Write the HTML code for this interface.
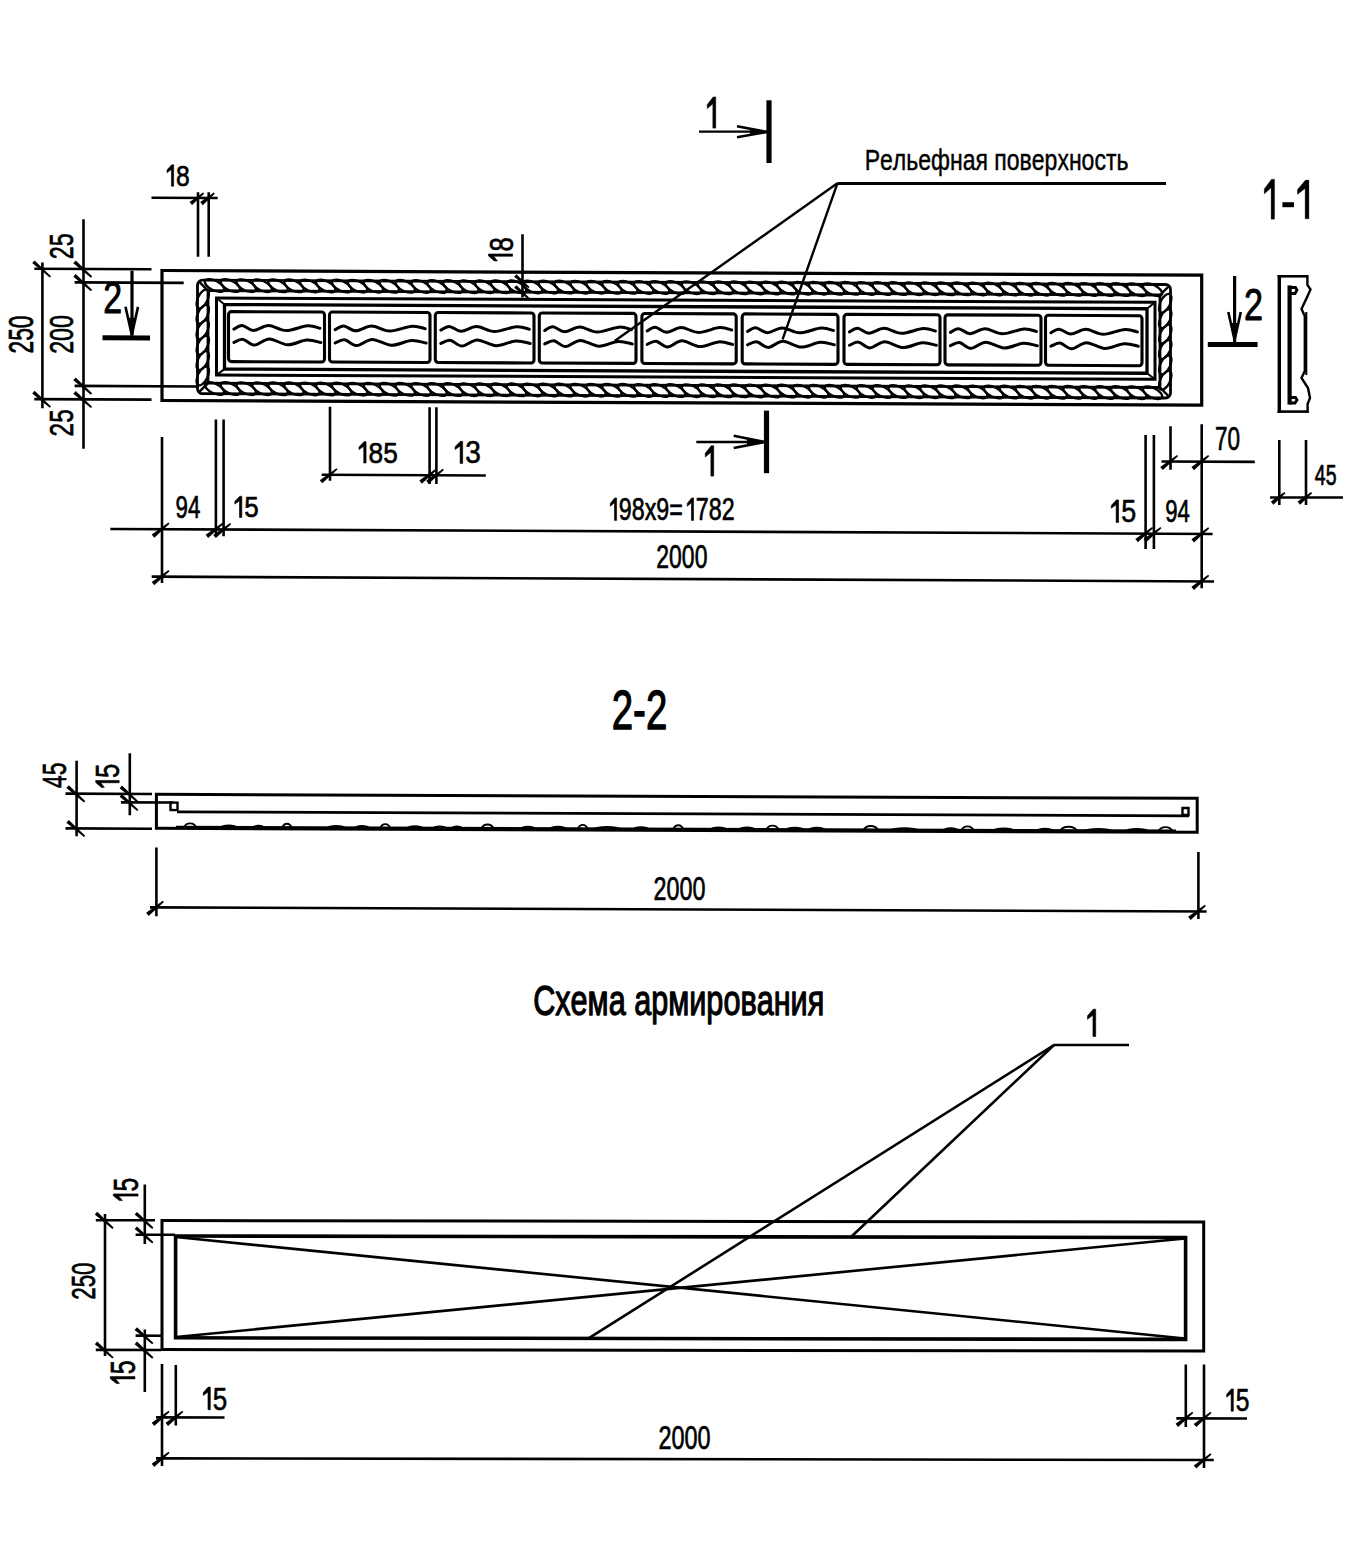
<!DOCTYPE html>
<html><head><meta charset="utf-8"><title>drawing</title>
<style>html,body{margin:0;padding:0;background:#fff;}body{width:1353px;height:1566px;overflow:hidden;font-family:"Liberation Sans",sans-serif;}svg{display:block;}</style>
</head><body><svg width="1353" height="1566" viewBox="0 0 1353 1566"><rect width="1353" height="1566" fill="#fff"/><g stroke="#000" fill="none" stroke-linecap="butt"><g transform="matrix(1,0.0045,0,1,0,-0.729)"><rect x="162" y="270.5" width="1039.7" height="130" fill="none" stroke-width="3.2"/><rect x="197.5" y="280" width="973.0" height="113.5" rx="5" fill="none" stroke-width="2.8"/><rect x="208.0" y="290.5" width="952.0" height="92.5" fill="none" stroke-width="2.8"/><ellipse cx="0" cy="0" rx="10.49" ry="4.83" transform="translate(214.45,285.25) rotate(26)" fill="none" stroke-width="2.3"/><ellipse cx="0" cy="0" rx="10.49" ry="4.83" transform="translate(230.35,285.25) rotate(26)" fill="none" stroke-width="2.3"/><ellipse cx="0" cy="0" rx="10.49" ry="4.83" transform="translate(246.25,285.25) rotate(26)" fill="none" stroke-width="2.3"/><ellipse cx="0" cy="0" rx="10.49" ry="4.83" transform="translate(262.15,285.25) rotate(26)" fill="none" stroke-width="2.3"/><ellipse cx="0" cy="0" rx="10.49" ry="4.83" transform="translate(278.05,285.25) rotate(26)" fill="none" stroke-width="2.3"/><ellipse cx="0" cy="0" rx="10.49" ry="4.83" transform="translate(293.95,285.25) rotate(26)" fill="none" stroke-width="2.3"/><ellipse cx="0" cy="0" rx="10.49" ry="4.83" transform="translate(309.85,285.25) rotate(26)" fill="none" stroke-width="2.3"/><ellipse cx="0" cy="0" rx="10.49" ry="4.83" transform="translate(325.75,285.25) rotate(26)" fill="none" stroke-width="2.3"/><ellipse cx="0" cy="0" rx="10.49" ry="4.83" transform="translate(341.65,285.25) rotate(26)" fill="none" stroke-width="2.3"/><ellipse cx="0" cy="0" rx="10.49" ry="4.83" transform="translate(357.55,285.25) rotate(26)" fill="none" stroke-width="2.3"/><ellipse cx="0" cy="0" rx="10.49" ry="4.83" transform="translate(373.45,285.25) rotate(26)" fill="none" stroke-width="2.3"/><ellipse cx="0" cy="0" rx="10.49" ry="4.83" transform="translate(389.35,285.25) rotate(26)" fill="none" stroke-width="2.3"/><ellipse cx="0" cy="0" rx="10.49" ry="4.83" transform="translate(405.25,285.25) rotate(26)" fill="none" stroke-width="2.3"/><ellipse cx="0" cy="0" rx="10.49" ry="4.83" transform="translate(421.15,285.25) rotate(26)" fill="none" stroke-width="2.3"/><ellipse cx="0" cy="0" rx="10.49" ry="4.83" transform="translate(437.05,285.25) rotate(26)" fill="none" stroke-width="2.3"/><ellipse cx="0" cy="0" rx="10.49" ry="4.83" transform="translate(452.95,285.25) rotate(26)" fill="none" stroke-width="2.3"/><ellipse cx="0" cy="0" rx="10.49" ry="4.83" transform="translate(468.85,285.25) rotate(26)" fill="none" stroke-width="2.3"/><ellipse cx="0" cy="0" rx="10.49" ry="4.83" transform="translate(484.75,285.25) rotate(26)" fill="none" stroke-width="2.3"/><ellipse cx="0" cy="0" rx="10.49" ry="4.83" transform="translate(500.65,285.25) rotate(26)" fill="none" stroke-width="2.3"/><ellipse cx="0" cy="0" rx="10.49" ry="4.83" transform="translate(516.55,285.25) rotate(26)" fill="none" stroke-width="2.3"/><ellipse cx="0" cy="0" rx="10.49" ry="4.83" transform="translate(532.45,285.25) rotate(26)" fill="none" stroke-width="2.3"/><ellipse cx="0" cy="0" rx="10.49" ry="4.83" transform="translate(548.35,285.25) rotate(26)" fill="none" stroke-width="2.3"/><ellipse cx="0" cy="0" rx="10.49" ry="4.83" transform="translate(564.25,285.25) rotate(26)" fill="none" stroke-width="2.3"/><ellipse cx="0" cy="0" rx="10.49" ry="4.83" transform="translate(580.15,285.25) rotate(26)" fill="none" stroke-width="2.3"/><ellipse cx="0" cy="0" rx="10.49" ry="4.83" transform="translate(596.05,285.25) rotate(26)" fill="none" stroke-width="2.3"/><ellipse cx="0" cy="0" rx="10.49" ry="4.83" transform="translate(611.95,285.25) rotate(26)" fill="none" stroke-width="2.3"/><ellipse cx="0" cy="0" rx="10.49" ry="4.83" transform="translate(627.85,285.25) rotate(26)" fill="none" stroke-width="2.3"/><ellipse cx="0" cy="0" rx="10.49" ry="4.83" transform="translate(643.75,285.25) rotate(26)" fill="none" stroke-width="2.3"/><ellipse cx="0" cy="0" rx="10.49" ry="4.83" transform="translate(659.65,285.25) rotate(26)" fill="none" stroke-width="2.3"/><ellipse cx="0" cy="0" rx="10.49" ry="4.83" transform="translate(675.55,285.25) rotate(26)" fill="none" stroke-width="2.3"/><ellipse cx="0" cy="0" rx="10.49" ry="4.83" transform="translate(691.45,285.25) rotate(26)" fill="none" stroke-width="2.3"/><ellipse cx="0" cy="0" rx="10.49" ry="4.83" transform="translate(707.35,285.25) rotate(26)" fill="none" stroke-width="2.3"/><ellipse cx="0" cy="0" rx="10.49" ry="4.83" transform="translate(723.25,285.25) rotate(26)" fill="none" stroke-width="2.3"/><ellipse cx="0" cy="0" rx="10.49" ry="4.83" transform="translate(739.15,285.25) rotate(26)" fill="none" stroke-width="2.3"/><ellipse cx="0" cy="0" rx="10.49" ry="4.83" transform="translate(755.05,285.25) rotate(26)" fill="none" stroke-width="2.3"/><ellipse cx="0" cy="0" rx="10.49" ry="4.83" transform="translate(770.95,285.25) rotate(26)" fill="none" stroke-width="2.3"/><ellipse cx="0" cy="0" rx="10.49" ry="4.83" transform="translate(786.85,285.25) rotate(26)" fill="none" stroke-width="2.3"/><ellipse cx="0" cy="0" rx="10.49" ry="4.83" transform="translate(802.75,285.25) rotate(26)" fill="none" stroke-width="2.3"/><ellipse cx="0" cy="0" rx="10.49" ry="4.83" transform="translate(818.65,285.25) rotate(26)" fill="none" stroke-width="2.3"/><ellipse cx="0" cy="0" rx="10.49" ry="4.83" transform="translate(834.55,285.25) rotate(26)" fill="none" stroke-width="2.3"/><ellipse cx="0" cy="0" rx="10.49" ry="4.83" transform="translate(850.45,285.25) rotate(26)" fill="none" stroke-width="2.3"/><ellipse cx="0" cy="0" rx="10.49" ry="4.83" transform="translate(866.35,285.25) rotate(26)" fill="none" stroke-width="2.3"/><ellipse cx="0" cy="0" rx="10.49" ry="4.83" transform="translate(882.25,285.25) rotate(26)" fill="none" stroke-width="2.3"/><ellipse cx="0" cy="0" rx="10.49" ry="4.83" transform="translate(898.15,285.25) rotate(26)" fill="none" stroke-width="2.3"/><ellipse cx="0" cy="0" rx="10.49" ry="4.83" transform="translate(914.05,285.25) rotate(26)" fill="none" stroke-width="2.3"/><ellipse cx="0" cy="0" rx="10.49" ry="4.83" transform="translate(929.95,285.25) rotate(26)" fill="none" stroke-width="2.3"/><ellipse cx="0" cy="0" rx="10.49" ry="4.83" transform="translate(945.85,285.25) rotate(26)" fill="none" stroke-width="2.3"/><ellipse cx="0" cy="0" rx="10.49" ry="4.83" transform="translate(961.75,285.25) rotate(26)" fill="none" stroke-width="2.3"/><ellipse cx="0" cy="0" rx="10.49" ry="4.83" transform="translate(977.65,285.25) rotate(26)" fill="none" stroke-width="2.3"/><ellipse cx="0" cy="0" rx="10.49" ry="4.83" transform="translate(993.55,285.25) rotate(26)" fill="none" stroke-width="2.3"/><ellipse cx="0" cy="0" rx="10.49" ry="4.83" transform="translate(1009.45,285.25) rotate(26)" fill="none" stroke-width="2.3"/><ellipse cx="0" cy="0" rx="10.49" ry="4.83" transform="translate(1025.35,285.25) rotate(26)" fill="none" stroke-width="2.3"/><ellipse cx="0" cy="0" rx="10.49" ry="4.83" transform="translate(1041.25,285.25) rotate(26)" fill="none" stroke-width="2.3"/><ellipse cx="0" cy="0" rx="10.49" ry="4.83" transform="translate(1057.15,285.25) rotate(26)" fill="none" stroke-width="2.3"/><ellipse cx="0" cy="0" rx="10.49" ry="4.83" transform="translate(1073.05,285.25) rotate(26)" fill="none" stroke-width="2.3"/><ellipse cx="0" cy="0" rx="10.49" ry="4.83" transform="translate(1088.95,285.25) rotate(26)" fill="none" stroke-width="2.3"/><ellipse cx="0" cy="0" rx="10.49" ry="4.83" transform="translate(1104.85,285.25) rotate(26)" fill="none" stroke-width="2.3"/><ellipse cx="0" cy="0" rx="10.49" ry="4.83" transform="translate(1120.75,285.25) rotate(26)" fill="none" stroke-width="2.3"/><ellipse cx="0" cy="0" rx="10.49" ry="4.83" transform="translate(1136.65,285.25) rotate(26)" fill="none" stroke-width="2.3"/><ellipse cx="0" cy="0" rx="10.49" ry="4.83" transform="translate(1152.55,285.25) rotate(26)" fill="none" stroke-width="2.3"/><ellipse cx="0" cy="0" rx="10.49" ry="4.83" transform="translate(214.45,388.25) rotate(26)" fill="none" stroke-width="2.3"/><ellipse cx="0" cy="0" rx="10.49" ry="4.83" transform="translate(230.35,388.25) rotate(26)" fill="none" stroke-width="2.3"/><ellipse cx="0" cy="0" rx="10.49" ry="4.83" transform="translate(246.25,388.25) rotate(26)" fill="none" stroke-width="2.3"/><ellipse cx="0" cy="0" rx="10.49" ry="4.83" transform="translate(262.15,388.25) rotate(26)" fill="none" stroke-width="2.3"/><ellipse cx="0" cy="0" rx="10.49" ry="4.83" transform="translate(278.05,388.25) rotate(26)" fill="none" stroke-width="2.3"/><ellipse cx="0" cy="0" rx="10.49" ry="4.83" transform="translate(293.95,388.25) rotate(26)" fill="none" stroke-width="2.3"/><ellipse cx="0" cy="0" rx="10.49" ry="4.83" transform="translate(309.85,388.25) rotate(26)" fill="none" stroke-width="2.3"/><ellipse cx="0" cy="0" rx="10.49" ry="4.83" transform="translate(325.75,388.25) rotate(26)" fill="none" stroke-width="2.3"/><ellipse cx="0" cy="0" rx="10.49" ry="4.83" transform="translate(341.65,388.25) rotate(26)" fill="none" stroke-width="2.3"/><ellipse cx="0" cy="0" rx="10.49" ry="4.83" transform="translate(357.55,388.25) rotate(26)" fill="none" stroke-width="2.3"/><ellipse cx="0" cy="0" rx="10.49" ry="4.83" transform="translate(373.45,388.25) rotate(26)" fill="none" stroke-width="2.3"/><ellipse cx="0" cy="0" rx="10.49" ry="4.83" transform="translate(389.35,388.25) rotate(26)" fill="none" stroke-width="2.3"/><ellipse cx="0" cy="0" rx="10.49" ry="4.83" transform="translate(405.25,388.25) rotate(26)" fill="none" stroke-width="2.3"/><ellipse cx="0" cy="0" rx="10.49" ry="4.83" transform="translate(421.15,388.25) rotate(26)" fill="none" stroke-width="2.3"/><ellipse cx="0" cy="0" rx="10.49" ry="4.83" transform="translate(437.05,388.25) rotate(26)" fill="none" stroke-width="2.3"/><ellipse cx="0" cy="0" rx="10.49" ry="4.83" transform="translate(452.95,388.25) rotate(26)" fill="none" stroke-width="2.3"/><ellipse cx="0" cy="0" rx="10.49" ry="4.83" transform="translate(468.85,388.25) rotate(26)" fill="none" stroke-width="2.3"/><ellipse cx="0" cy="0" rx="10.49" ry="4.83" transform="translate(484.75,388.25) rotate(26)" fill="none" stroke-width="2.3"/><ellipse cx="0" cy="0" rx="10.49" ry="4.83" transform="translate(500.65,388.25) rotate(26)" fill="none" stroke-width="2.3"/><ellipse cx="0" cy="0" rx="10.49" ry="4.83" transform="translate(516.55,388.25) rotate(26)" fill="none" stroke-width="2.3"/><ellipse cx="0" cy="0" rx="10.49" ry="4.83" transform="translate(532.45,388.25) rotate(26)" fill="none" stroke-width="2.3"/><ellipse cx="0" cy="0" rx="10.49" ry="4.83" transform="translate(548.35,388.25) rotate(26)" fill="none" stroke-width="2.3"/><ellipse cx="0" cy="0" rx="10.49" ry="4.83" transform="translate(564.25,388.25) rotate(26)" fill="none" stroke-width="2.3"/><ellipse cx="0" cy="0" rx="10.49" ry="4.83" transform="translate(580.15,388.25) rotate(26)" fill="none" stroke-width="2.3"/><ellipse cx="0" cy="0" rx="10.49" ry="4.83" transform="translate(596.05,388.25) rotate(26)" fill="none" stroke-width="2.3"/><ellipse cx="0" cy="0" rx="10.49" ry="4.83" transform="translate(611.95,388.25) rotate(26)" fill="none" stroke-width="2.3"/><ellipse cx="0" cy="0" rx="10.49" ry="4.83" transform="translate(627.85,388.25) rotate(26)" fill="none" stroke-width="2.3"/><ellipse cx="0" cy="0" rx="10.49" ry="4.83" transform="translate(643.75,388.25) rotate(26)" fill="none" stroke-width="2.3"/><ellipse cx="0" cy="0" rx="10.49" ry="4.83" transform="translate(659.65,388.25) rotate(26)" fill="none" stroke-width="2.3"/><ellipse cx="0" cy="0" rx="10.49" ry="4.83" transform="translate(675.55,388.25) rotate(26)" fill="none" stroke-width="2.3"/><ellipse cx="0" cy="0" rx="10.49" ry="4.83" transform="translate(691.45,388.25) rotate(26)" fill="none" stroke-width="2.3"/><ellipse cx="0" cy="0" rx="10.49" ry="4.83" transform="translate(707.35,388.25) rotate(26)" fill="none" stroke-width="2.3"/><ellipse cx="0" cy="0" rx="10.49" ry="4.83" transform="translate(723.25,388.25) rotate(26)" fill="none" stroke-width="2.3"/><ellipse cx="0" cy="0" rx="10.49" ry="4.83" transform="translate(739.15,388.25) rotate(26)" fill="none" stroke-width="2.3"/><ellipse cx="0" cy="0" rx="10.49" ry="4.83" transform="translate(755.05,388.25) rotate(26)" fill="none" stroke-width="2.3"/><ellipse cx="0" cy="0" rx="10.49" ry="4.83" transform="translate(770.95,388.25) rotate(26)" fill="none" stroke-width="2.3"/><ellipse cx="0" cy="0" rx="10.49" ry="4.83" transform="translate(786.85,388.25) rotate(26)" fill="none" stroke-width="2.3"/><ellipse cx="0" cy="0" rx="10.49" ry="4.83" transform="translate(802.75,388.25) rotate(26)" fill="none" stroke-width="2.3"/><ellipse cx="0" cy="0" rx="10.49" ry="4.83" transform="translate(818.65,388.25) rotate(26)" fill="none" stroke-width="2.3"/><ellipse cx="0" cy="0" rx="10.49" ry="4.83" transform="translate(834.55,388.25) rotate(26)" fill="none" stroke-width="2.3"/><ellipse cx="0" cy="0" rx="10.49" ry="4.83" transform="translate(850.45,388.25) rotate(26)" fill="none" stroke-width="2.3"/><ellipse cx="0" cy="0" rx="10.49" ry="4.83" transform="translate(866.35,388.25) rotate(26)" fill="none" stroke-width="2.3"/><ellipse cx="0" cy="0" rx="10.49" ry="4.83" transform="translate(882.25,388.25) rotate(26)" fill="none" stroke-width="2.3"/><ellipse cx="0" cy="0" rx="10.49" ry="4.83" transform="translate(898.15,388.25) rotate(26)" fill="none" stroke-width="2.3"/><ellipse cx="0" cy="0" rx="10.49" ry="4.83" transform="translate(914.05,388.25) rotate(26)" fill="none" stroke-width="2.3"/><ellipse cx="0" cy="0" rx="10.49" ry="4.83" transform="translate(929.95,388.25) rotate(26)" fill="none" stroke-width="2.3"/><ellipse cx="0" cy="0" rx="10.49" ry="4.83" transform="translate(945.85,388.25) rotate(26)" fill="none" stroke-width="2.3"/><ellipse cx="0" cy="0" rx="10.49" ry="4.83" transform="translate(961.75,388.25) rotate(26)" fill="none" stroke-width="2.3"/><ellipse cx="0" cy="0" rx="10.49" ry="4.83" transform="translate(977.65,388.25) rotate(26)" fill="none" stroke-width="2.3"/><ellipse cx="0" cy="0" rx="10.49" ry="4.83" transform="translate(993.55,388.25) rotate(26)" fill="none" stroke-width="2.3"/><ellipse cx="0" cy="0" rx="10.49" ry="4.83" transform="translate(1009.45,388.25) rotate(26)" fill="none" stroke-width="2.3"/><ellipse cx="0" cy="0" rx="10.49" ry="4.83" transform="translate(1025.35,388.25) rotate(26)" fill="none" stroke-width="2.3"/><ellipse cx="0" cy="0" rx="10.49" ry="4.83" transform="translate(1041.25,388.25) rotate(26)" fill="none" stroke-width="2.3"/><ellipse cx="0" cy="0" rx="10.49" ry="4.83" transform="translate(1057.15,388.25) rotate(26)" fill="none" stroke-width="2.3"/><ellipse cx="0" cy="0" rx="10.49" ry="4.83" transform="translate(1073.05,388.25) rotate(26)" fill="none" stroke-width="2.3"/><ellipse cx="0" cy="0" rx="10.49" ry="4.83" transform="translate(1088.95,388.25) rotate(26)" fill="none" stroke-width="2.3"/><ellipse cx="0" cy="0" rx="10.49" ry="4.83" transform="translate(1104.85,388.25) rotate(26)" fill="none" stroke-width="2.3"/><ellipse cx="0" cy="0" rx="10.49" ry="4.83" transform="translate(1120.75,388.25) rotate(26)" fill="none" stroke-width="2.3"/><ellipse cx="0" cy="0" rx="10.49" ry="4.83" transform="translate(1136.65,388.25) rotate(26)" fill="none" stroke-width="2.3"/><ellipse cx="0" cy="0" rx="10.49" ry="4.83" transform="translate(1152.55,388.25) rotate(26)" fill="none" stroke-width="2.3"/><ellipse cx="0" cy="0" rx="4.83" ry="10.18" transform="translate(202.75,298.71) rotate(26)" fill="none" stroke-width="2.3"/><ellipse cx="0" cy="0" rx="4.83" ry="10.18" transform="translate(202.75,314.12) rotate(26)" fill="none" stroke-width="2.3"/><ellipse cx="0" cy="0" rx="4.83" ry="10.18" transform="translate(202.75,329.54) rotate(26)" fill="none" stroke-width="2.3"/><ellipse cx="0" cy="0" rx="4.83" ry="10.18" transform="translate(202.75,344.96) rotate(26)" fill="none" stroke-width="2.3"/><ellipse cx="0" cy="0" rx="4.83" ry="10.18" transform="translate(202.75,360.38) rotate(26)" fill="none" stroke-width="2.3"/><ellipse cx="0" cy="0" rx="4.83" ry="10.18" transform="translate(202.75,375.79) rotate(26)" fill="none" stroke-width="2.3"/><ellipse cx="0" cy="0" rx="4.83" ry="10.18" transform="translate(1165.25,298.71) rotate(26)" fill="none" stroke-width="2.3"/><ellipse cx="0" cy="0" rx="4.83" ry="10.18" transform="translate(1165.25,314.12) rotate(26)" fill="none" stroke-width="2.3"/><ellipse cx="0" cy="0" rx="4.83" ry="10.18" transform="translate(1165.25,329.54) rotate(26)" fill="none" stroke-width="2.3"/><ellipse cx="0" cy="0" rx="4.83" ry="10.18" transform="translate(1165.25,344.96) rotate(26)" fill="none" stroke-width="2.3"/><ellipse cx="0" cy="0" rx="4.83" ry="10.18" transform="translate(1165.25,360.38) rotate(26)" fill="none" stroke-width="2.3"/><ellipse cx="0" cy="0" rx="4.83" ry="10.18" transform="translate(1165.25,375.79) rotate(26)" fill="none" stroke-width="2.3"/><line x1="198.50" y1="281.00" x2="208.00" y2="290.50" stroke-width="2.4" /><line x1="1169.50" y1="281.00" x2="1160.00" y2="290.50" stroke-width="2.4" /><line x1="198.50" y1="392.50" x2="208.00" y2="383.00" stroke-width="2.4" /><line x1="1169.50" y1="392.50" x2="1160.00" y2="383.00" stroke-width="2.4" /><rect x="216.5" y="297.8" width="938.5" height="77.0" fill="none" stroke-width="3.0"/><rect x="224.5" y="304.3" width="922.5" height="64.5" fill="none" stroke-width="3.3"/><line x1="216.50" y1="297.80" x2="224.50" y2="304.30" stroke-width="2" /><line x1="1155.00" y1="297.80" x2="1147.00" y2="304.30" stroke-width="2" /><line x1="216.50" y1="374.80" x2="224.50" y2="368.80" stroke-width="2" /><line x1="1155.00" y1="374.80" x2="1147.00" y2="368.80" stroke-width="2" /><rect x="228.5" y="311.3" width="96.0" height="50.0" rx="3" fill="none" stroke-width="3.1"/><path d="M233.90,328.80 C235.27,328.18 238.83,324.90 242.14,325.10 C245.45,325.30 249.34,330.00 253.75,330.00 C258.16,330.00 263.23,325.10 268.61,325.10 C273.99,325.10 279.54,330.00 286.02,330.00 C292.50,330.00 301.85,325.52 307.50,325.10 C313.15,324.68 317.85,327.10 319.92,327.50" fill="none" stroke-width="3.0" stroke-linecap="round"/><path d="M233.90,342.20 C235.41,341.67 239.51,338.58 242.96,339.00 C246.40,339.42 250.17,344.78 254.56,344.70 C258.96,344.62 263.81,338.58 269.32,338.50 C274.84,338.42 281.42,344.05 287.65,344.20 C293.87,344.35 301.15,339.80 306.68,339.40 C312.22,339.00 318.48,341.40 320.84,341.80" fill="none" stroke-width="3.0" stroke-linecap="round"/><rect x="329.5" y="311.3" width="100.5" height="50.0" rx="3" fill="none" stroke-width="3.1"/><path d="M335.15,328.80 C336.59,328.18 340.32,324.90 343.78,325.10 C347.24,325.30 351.31,330.00 355.93,330.00 C360.55,330.00 365.86,325.10 371.49,325.10 C377.12,325.10 382.93,330.00 389.71,330.00 C396.50,330.00 406.29,325.52 412.20,325.10 C418.12,324.68 423.04,327.10 425.20,327.50" fill="none" stroke-width="3.0" stroke-linecap="round"/><path d="M335.15,342.20 C336.73,341.67 341.03,338.58 344.63,339.00 C348.24,339.42 352.18,344.78 356.78,344.70 C361.38,344.62 366.46,338.58 372.24,338.50 C378.01,338.42 384.90,344.05 391.42,344.20 C397.94,344.35 405.56,339.80 411.35,339.40 C417.14,339.00 423.69,341.40 426.16,341.80" fill="none" stroke-width="3.0" stroke-linecap="round"/><rect x="435.3" y="311.3" width="98.69999999999999" height="50.0" rx="3" fill="none" stroke-width="3.1"/><path d="M440.85,328.80 C442.26,328.18 445.92,324.90 449.33,325.10 C452.73,325.30 456.72,330.00 461.26,330.00 C465.79,330.00 471.01,325.10 476.54,325.10 C482.07,325.10 487.77,330.00 494.44,330.00 C501.10,330.00 510.71,325.52 516.52,325.10 C522.33,324.68 527.16,327.10 529.29,327.50" fill="none" stroke-width="3.0" stroke-linecap="round"/><path d="M440.85,342.20 C442.40,341.67 446.62,338.58 450.16,339.00 C453.70,339.42 457.58,344.78 462.09,344.70 C466.61,344.62 471.60,338.58 477.27,338.50 C482.94,338.42 489.71,344.05 496.11,344.20 C502.51,344.35 510.00,339.80 515.68,339.40 C521.37,339.00 527.81,341.40 530.23,341.80" fill="none" stroke-width="3.0" stroke-linecap="round"/><rect x="539.3" y="311.3" width="96.70000000000005" height="50.0" rx="3" fill="none" stroke-width="3.1"/><path d="M544.73,328.80 C546.12,328.18 549.71,324.90 553.04,325.10 C556.37,325.30 560.29,330.00 564.73,330.00 C569.17,330.00 574.28,325.10 579.70,325.10 C585.12,325.10 590.71,330.00 597.24,330.00 C603.77,330.00 613.18,325.52 618.87,325.10 C624.57,324.68 629.30,327.10 631.39,327.50" fill="none" stroke-width="3.0" stroke-linecap="round"/><path d="M544.73,342.20 C546.26,341.67 550.39,338.58 553.86,339.00 C557.33,339.42 561.13,344.78 565.55,344.70 C569.98,344.62 574.87,338.58 580.42,338.50 C585.98,338.42 592.61,344.05 598.88,344.20 C605.15,344.35 612.48,339.80 618.05,339.40 C623.63,339.00 629.93,341.40 632.31,341.80" fill="none" stroke-width="3.0" stroke-linecap="round"/><rect x="641.9" y="311.3" width="94.30000000000007" height="50.0" rx="3" fill="none" stroke-width="3.1"/><path d="M647.20,328.80 C648.55,328.18 652.05,324.90 655.30,325.10 C658.55,325.30 662.37,330.00 666.70,330.00 C671.03,330.00 676.02,325.10 681.30,325.10 C686.58,325.10 692.03,330.00 698.40,330.00 C704.77,330.00 713.95,325.52 719.50,325.10 C725.05,324.68 729.67,327.10 731.70,327.50" fill="none" stroke-width="3.0" stroke-linecap="round"/><path d="M647.20,342.20 C648.68,341.67 652.72,338.58 656.10,339.00 C659.48,339.42 663.18,344.78 667.50,344.70 C671.82,344.62 676.58,338.58 682.00,338.50 C687.42,338.42 693.88,344.05 700.00,344.20 C706.12,344.35 713.27,339.80 718.70,339.40 C724.13,339.00 730.28,341.40 732.60,341.80" fill="none" stroke-width="3.0" stroke-linecap="round"/><rect x="742.2" y="311.3" width="95.79999999999995" height="50.0" rx="3" fill="none" stroke-width="3.1"/><path d="M747.58,328.80 C748.96,328.18 752.51,324.90 755.81,325.10 C759.11,325.30 762.99,330.00 767.39,330.00 C771.80,330.00 776.86,325.10 782.23,325.10 C787.59,325.10 793.13,330.00 799.60,330.00 C806.07,330.00 815.40,325.52 821.03,325.10 C826.67,324.68 831.36,327.10 833.43,327.50" fill="none" stroke-width="3.0" stroke-linecap="round"/><path d="M747.58,342.20 C749.09,341.67 753.19,338.58 756.63,339.00 C760.06,339.42 763.82,344.78 768.21,344.70 C772.59,344.62 777.44,338.58 782.94,338.50 C788.44,338.42 795.01,344.05 801.22,344.20 C807.44,344.35 814.70,339.80 820.22,339.40 C825.74,339.00 831.99,341.40 834.34,341.80" fill="none" stroke-width="3.0" stroke-linecap="round"/><rect x="844" y="311.3" width="96" height="50.0" rx="3" fill="none" stroke-width="3.1"/><path d="M849.40,328.80 C850.77,328.18 854.33,324.90 857.64,325.10 C860.95,325.30 864.84,330.00 869.25,330.00 C873.66,330.00 878.73,325.10 884.11,325.10 C889.49,325.10 895.04,330.00 901.52,330.00 C908.00,330.00 917.35,325.52 923.00,325.10 C928.65,324.68 933.35,327.10 935.42,327.50" fill="none" stroke-width="3.0" stroke-linecap="round"/><path d="M849.40,342.20 C850.91,341.67 855.01,338.58 858.46,339.00 C861.90,339.42 865.67,344.78 870.06,344.70 C874.46,344.62 879.31,338.58 884.82,338.50 C890.34,338.42 896.92,344.05 903.15,344.20 C909.37,344.35 916.65,339.80 922.18,339.40 C927.72,339.00 933.98,341.40 936.34,341.80" fill="none" stroke-width="3.0" stroke-linecap="round"/><rect x="945" y="311.3" width="96" height="50.0" rx="3" fill="none" stroke-width="3.1"/><path d="M950.40,328.80 C951.77,328.18 955.33,324.90 958.64,325.10 C961.95,325.30 965.84,330.00 970.25,330.00 C974.66,330.00 979.73,325.10 985.11,325.10 C990.49,325.10 996.04,330.00 1002.52,330.00 C1009.00,330.00 1018.35,325.52 1024.00,325.10 C1029.65,324.68 1034.35,327.10 1036.42,327.50" fill="none" stroke-width="3.0" stroke-linecap="round"/><path d="M950.40,342.20 C951.91,341.67 956.01,338.58 959.46,339.00 C962.90,339.42 966.67,344.78 971.06,344.70 C975.46,344.62 980.31,338.58 985.82,338.50 C991.34,338.42 997.92,344.05 1004.15,344.20 C1010.37,344.35 1017.65,339.80 1023.18,339.40 C1028.72,339.00 1034.98,341.40 1037.34,341.80" fill="none" stroke-width="3.0" stroke-linecap="round"/><rect x="1045.5" y="311.3" width="96.5" height="50.0" rx="3" fill="none" stroke-width="3.1"/><path d="M1050.92,328.80 C1052.31,328.18 1055.89,324.90 1059.21,325.10 C1062.54,325.30 1066.44,330.00 1070.88,330.00 C1075.31,330.00 1080.41,325.10 1085.82,325.10 C1091.23,325.10 1096.80,330.00 1103.32,330.00 C1109.83,330.00 1119.23,325.52 1124.91,325.10 C1130.59,324.68 1135.31,327.10 1137.40,327.50" fill="none" stroke-width="3.0" stroke-linecap="round"/><path d="M1050.92,342.20 C1052.44,341.67 1056.57,338.58 1060.03,339.00 C1063.49,339.42 1067.28,344.78 1071.70,344.70 C1076.11,344.62 1080.99,338.58 1086.54,338.50 C1092.08,338.42 1098.70,344.05 1104.96,344.20 C1111.21,344.35 1118.53,339.80 1124.09,339.40 C1129.65,339.00 1135.95,341.40 1138.32,341.80" fill="none" stroke-width="3.0" stroke-linecap="round"/><line x1="42.40" y1="263.00" x2="42.40" y2="408.70" stroke-width="2.6" /><line x1="83.50" y1="219.70" x2="83.50" y2="449.00" stroke-width="2.6" /><line x1="34.30" y1="269.30" x2="151.50" y2="269.30" stroke-width="2.6" /><line x1="74.60" y1="282.80" x2="183.70" y2="282.80" stroke-width="2.6" /><line x1="74.60" y1="386.30" x2="199.00" y2="386.30" stroke-width="2.6" /><line x1="34.30" y1="399.70" x2="151.50" y2="399.70" stroke-width="2.6" /><path d="M32.21,263.65 L49.80,277.97 L51.00,276.63 L34.59,260.95Z" fill="#000" stroke="none"/><path d="M32.21,394.05 L49.80,408.37 L51.00,407.03 L34.59,391.35Z" fill="#000" stroke="none"/><path d="M73.31,263.65 L90.90,277.97 L92.10,276.63 L75.69,260.95Z" fill="#000" stroke="none"/><path d="M73.31,277.15 L90.90,291.47 L92.10,290.13 L75.69,274.45Z" fill="#000" stroke="none"/><path d="M73.31,380.65 L90.90,394.97 L92.10,393.63 L75.69,377.95Z" fill="#000" stroke="none"/><path d="M73.31,394.05 L90.90,408.37 L92.10,407.03 L75.69,391.35Z" fill="#000" stroke="none"/><line x1="132.00" y1="271.00" x2="132.00" y2="336.00" stroke-width="3.2" /><path d="M125.5,307 L131.8,335 L138,307" fill="none" stroke-width="2.6"/><path d="M128.6,318 L131.8,335 L135,318 Z" fill="#000" stroke="none"/><line x1="102.50" y1="338.00" x2="150.00" y2="338.00" stroke-width="5.0" /><line x1="151.50" y1="197.80" x2="217.70" y2="197.80" stroke-width="2.6" /><line x1="198.00" y1="192.00" x2="198.00" y2="256.60" stroke-width="2.6" /><line x1="208.70" y1="192.00" x2="208.70" y2="256.60" stroke-width="2.6" /><path d="M192.06,204.95 L204.10,193.62 L203.10,192.38 L189.54,201.85Z" fill="#000" stroke="none"/><path d="M202.76,204.95 L214.80,193.62 L213.80,192.38 L200.24,201.85Z" fill="#000" stroke="none"/><line x1="522.50" y1="232.60" x2="522.50" y2="295.80" stroke-width="2.6" /><path d="M514.11,275.25 L528.30,286.57 L529.50,285.23 L516.49,272.55Z" fill="#000" stroke="none"/><path d="M514.11,286.25 L528.30,297.57 L529.50,296.23 L516.49,283.55Z" fill="#000" stroke="none"/><line x1="330.00" y1="406.00" x2="330.00" y2="480.00" stroke-width="2.6" /><line x1="429.60" y1="406.00" x2="429.60" y2="482.70" stroke-width="2.6" /><line x1="436.40" y1="406.00" x2="436.40" y2="482.70" stroke-width="2.6" /><line x1="321.70" y1="474.00" x2="485.80" y2="474.00" stroke-width="2.6" /><path d="M322.26,482.55 L337.50,468.62 L336.50,467.38 L319.74,479.45Z" fill="#000" stroke="none"/><path d="M421.86,482.55 L437.10,468.62 L436.10,467.38 L419.34,479.45Z" fill="#000" stroke="none"/><path d="M428.66,482.55 L443.90,468.62 L442.90,467.38 L426.14,479.45Z" fill="#000" stroke="none"/><line x1="162.00" y1="437.00" x2="162.00" y2="583.00" stroke-width="2.6" /><line x1="215.90" y1="419.20" x2="215.90" y2="536.00" stroke-width="2.6" /><line x1="223.60" y1="419.20" x2="223.60" y2="536.00" stroke-width="2.6" /><line x1="110.30" y1="529.20" x2="1212.60" y2="529.20" stroke-width="2.6" /><path d="M154.26,537.75 L169.50,523.82 L168.50,522.58 L151.74,534.65Z" fill="#000" stroke="none"/><path d="M208.16,537.75 L223.40,523.82 L222.40,522.58 L205.64,534.65Z" fill="#000" stroke="none"/><path d="M215.86,537.75 L231.10,523.82 L230.10,522.58 L213.34,534.65Z" fill="#000" stroke="none"/><path d="M1137.86,537.75 L1153.10,523.82 L1152.10,522.58 L1135.34,534.65Z" fill="#000" stroke="none"/><path d="M1146.16,537.75 L1161.40,523.82 L1160.40,522.58 L1143.64,534.65Z" fill="#000" stroke="none"/><path d="M1193.96,537.75 L1209.20,523.82 L1208.20,522.58 L1191.44,534.65Z" fill="#000" stroke="none"/><line x1="1145.60" y1="430.60" x2="1145.60" y2="544.50" stroke-width="2.6" /><line x1="1153.90" y1="430.60" x2="1153.90" y2="544.50" stroke-width="2.6" /><line x1="1170.50" y1="421.60" x2="1170.50" y2="465.20" stroke-width="2.6" /><line x1="1201.70" y1="419.50" x2="1201.70" y2="583.50" stroke-width="2.6" /><line x1="1161.50" y1="457.00" x2="1254.80" y2="457.00" stroke-width="2.6" /><path d="M1162.76,465.55 L1178.00,451.62 L1177.00,450.38 L1160.24,462.45Z" fill="#000" stroke="none"/><path d="M1193.96,465.55 L1209.20,451.62 L1208.20,450.38 L1191.44,462.45Z" fill="#000" stroke="none"/><line x1="151.70" y1="576.70" x2="1214.00" y2="576.70" stroke-width="2.6" /><path d="M154.26,585.25 L169.50,571.32 L168.50,570.08 L151.74,582.15Z" fill="#000" stroke="none"/><path d="M1193.96,585.25 L1209.20,571.32 L1208.20,570.08 L1191.44,582.15Z" fill="#000" stroke="none"/></g><line x1="769.00" y1="100.30" x2="769.00" y2="163.00" stroke-width="5.2" /><line x1="699.00" y1="131.60" x2="767.00" y2="131.60" stroke-width="2.4" /><path d="M737,126.2 L767,132 L737,137.3" fill="none" stroke-width="2.6"/><path d="M750,128.6 L767,132 L750,135 Z" fill="#000" stroke="none"/><line x1="766.50" y1="410.60" x2="766.50" y2="473.20" stroke-width="5.2" /><line x1="696.30" y1="442.00" x2="765.00" y2="442.00" stroke-width="2.4" /><path d="M733.7,435.8 L764.6,442 L733.7,448" fill="none" stroke-width="2.6"/><path d="M747,439 L764.6,442 L747,445 Z" fill="#000" stroke="none"/><line x1="837.40" y1="183.50" x2="1166.00" y2="183.50" stroke-width="2.8" /><line x1="837.40" y1="183.30" x2="614.60" y2="341.00" stroke-width="2.4" /><line x1="837.40" y1="183.30" x2="782.60" y2="339.40" stroke-width="2.4" /><line x1="1234.60" y1="276.00" x2="1234.60" y2="342.00" stroke-width="3.2" /><path d="M1228.3,312 L1234.6,340 L1240.8,312" fill="none" stroke-width="2.6"/><path d="M1231.4,323 L1234.6,340 L1237.8,323 Z" fill="#000" stroke="none"/><line x1="1207.80" y1="344.50" x2="1257.60" y2="344.50" stroke-width="5.0" /><line x1="1279.30" y1="275.00" x2="1279.30" y2="413.00" stroke-width="3.4" /><line x1="1277.60" y1="276.30" x2="1307.40" y2="276.30" stroke-width="2.6" /><line x1="1277.60" y1="411.60" x2="1308.40" y2="411.60" stroke-width="2.6" /><path d="M1307.4,275 L1307.4,285 L1310.5,289.5 L1307.6,296 L1301.5,309 L1304.8,316 L1304.8,371 L1301.5,378 L1308,388 L1310,398 L1307.6,404 L1307.6,413" fill="none" stroke-width="2.4"/><line x1="1306.30" y1="312.00" x2="1306.30" y2="375.00" stroke-width="2.0" /><line x1="1289.60" y1="285.40" x2="1289.60" y2="404.60" stroke-width="4.2" /><path d="M1289,287.5 L1295.5,287.5 L1297,290 L1295,293.5 L1290,293.5" fill="none" stroke-width="2.8"/><path d="M1289,397.5 L1295.5,397.5 L1297,400 L1295,403 L1290,403" fill="none" stroke-width="2.8"/><line x1="1279.30" y1="440.00" x2="1279.30" y2="505.00" stroke-width="2.6" /><line x1="1306.00" y1="440.00" x2="1306.00" y2="505.00" stroke-width="2.6" /><line x1="1270.00" y1="497.50" x2="1343.00" y2="497.50" stroke-width="2.6" /><path d="M1273.36,504.65 L1285.40,493.32 L1284.40,492.08 L1270.84,501.55Z" fill="#000" stroke="none"/><path d="M1300.06,504.65 L1312.10,493.32 L1311.10,492.08 L1297.54,501.55Z" fill="#000" stroke="none"/><g transform="matrix(1,0.0039,0,1,0,-0.610)"><rect x="156.4" y="794.3" width="1040.8" height="34" fill="none" stroke-width="3.0"/><path d="M177,811.8 L1189,811.8" fill="none" stroke-width="2.8"/><rect x="170.5" y="802.5" width="7" height="7.5" fill="none" stroke-width="2.4"/><rect x="1182.5" y="804" width="6" height="7" fill="none" stroke-width="2.4"/><path d="M183.6,828.0 C186.2,821.6 194.0,821.6 196.6,828.0 M219.8,828.0 C223.4,824.3 234.4,824.3 238.0,828.0 M252.0,828.0 C254.6,824.3 262.4,824.3 265.0,828.0 M282.0,828.0 C284.0,821.6 290.0,821.6 292.0,828.0 M326.0,828.0 C330.1,824.3 342.5,824.3 346.6,828.0 M354.0,828.0 C357.2,824.3 366.8,824.3 370.0,828.0 M380.0,828.0 C382.1,821.6 388.5,821.6 390.6,828.0 M406.0,828.0 C409.6,824.3 420.4,824.3 424.0,828.0 M432.0,828.0 C435.1,824.3 444.4,824.3 447.5,828.0 M451.0,828.0 C453.4,824.3 460.6,824.3 463.0,828.0 M481.0,828.0 C483.6,821.6 491.4,821.6 494.0,828.0 M520.0,828.0 C523.2,824.3 532.8,824.3 536.0,828.0 M549.0,828.0 C552.6,824.3 563.4,824.3 567.0,828.0 M577.6,828.0 C579.7,821.6 585.9,821.6 588.0,828.0 M593.0,828.0 C598.7,824.3 615.9,824.3 621.6,828.0 M632.0,828.0 C635.6,824.3 646.4,824.3 650.0,828.0 M673.0,828.0 C675.1,821.6 681.5,821.6 683.6,828.0 M709.5,828.0 C713.1,824.3 724.0,824.3 727.6,828.0 M738.0,828.0 C741.6,824.3 752.4,824.3 756.0,828.0 M766.0,828.0 C768.6,821.6 776.4,821.6 779.0,828.0 M784.5,828.0 C788.6,824.3 800.9,824.3 805.0,828.0 M808.0,828.0 C811.6,824.3 822.4,824.3 826.0,828.0 M863.0,828.0 C866.1,821.6 875.4,821.6 878.5,828.0 M889.0,828.0 C895.2,824.3 913.8,824.3 920.0,828.0 M943.0,828.0 C946.1,824.3 955.5,824.3 958.6,828.0 M961.0,828.0 C963.6,821.6 971.4,821.6 974.0,828.0 M992.0,828.0 C996.7,824.3 1010.8,824.3 1015.5,828.0 M1036.0,828.0 C1039.6,824.3 1050.4,824.3 1054.0,828.0 M1059.5,828.0 C1063.1,821.6 1074.0,821.6 1077.6,828.0 M1083.0,828.0 C1089.2,824.3 1107.8,824.3 1114.0,828.0 M1124.0,828.0 C1129.2,824.3 1144.8,824.3 1150.0,828.0 M1158.0,828.0 C1161.0,821.6 1170.0,821.6 1173.0,828.0 " fill="none" stroke-width="1.9"/><line x1="176.00" y1="826.60" x2="1176.00" y2="826.60" stroke-width="2.0" /><line x1="76.60" y1="761.00" x2="76.60" y2="836.50" stroke-width="2.6" /><line x1="129.80" y1="753.30" x2="129.80" y2="815.40" stroke-width="2.6" /><line x1="65.50" y1="794.00" x2="152.00" y2="794.00" stroke-width="2.6" /><line x1="121.00" y1="802.50" x2="173.00" y2="802.50" stroke-width="2.6" /><line x1="65.50" y1="828.70" x2="152.00" y2="828.70" stroke-width="2.6" /><path d="M66.41,788.35 L84.00,802.67 L85.20,801.33 L68.79,785.65Z" fill="#000" stroke="none"/><path d="M66.41,823.05 L84.00,837.37 L85.20,836.03 L68.79,820.35Z" fill="#000" stroke="none"/><path d="M119.61,788.35 L137.20,802.67 L138.40,801.33 L121.99,785.65Z" fill="#000" stroke="none"/><path d="M119.61,796.85 L137.20,811.17 L138.40,809.83 L121.99,794.15Z" fill="#000" stroke="none"/><line x1="156.40" y1="847.50" x2="156.40" y2="916.30" stroke-width="2.6" /><line x1="1198.40" y1="848.00" x2="1198.40" y2="915.00" stroke-width="2.6" /><line x1="150.00" y1="907.40" x2="1206.60" y2="907.40" stroke-width="2.6" /><path d="M148.66,915.95 L163.90,902.02 L162.90,900.78 L146.14,912.85Z" fill="#000" stroke="none"/><path d="M1190.66,915.95 L1205.90,902.02 L1204.90,900.78 L1188.14,912.85Z" fill="#000" stroke="none"/></g><g transform="matrix(1,0.0015,0,1,0,-0.243)"><rect x="162" y="1220.5" width="1041.7" height="129" fill="none" stroke-width="3.0"/><rect x="175.6" y="1236" width="1010" height="101.8" fill="none" stroke-width="3.6"/><line x1="176.00" y1="1237.00" x2="1185.00" y2="1337.00" stroke-width="2.6" /><line x1="176.00" y1="1337.00" x2="1185.00" y2="1237.00" stroke-width="2.6" /><line x1="105.00" y1="1214.00" x2="105.00" y2="1356.00" stroke-width="2.6" /><line x1="95.80" y1="1220.30" x2="155.00" y2="1220.30" stroke-width="2.6" /><line x1="135.60" y1="1234.80" x2="175.00" y2="1234.80" stroke-width="2.6" /><line x1="135.60" y1="1335.70" x2="162.00" y2="1335.70" stroke-width="2.6" /><line x1="95.80" y1="1350.00" x2="161.00" y2="1350.00" stroke-width="2.6" /><path d="M94.81,1214.65 L112.40,1228.97 L113.60,1227.63 L97.19,1211.95Z" fill="#000" stroke="none"/><path d="M94.81,1344.35 L112.40,1358.67 L113.60,1357.33 L97.19,1341.65Z" fill="#000" stroke="none"/><line x1="144.80" y1="1184.50" x2="144.80" y2="1244.00" stroke-width="2.6" /><line x1="144.80" y1="1329.60" x2="144.80" y2="1392.00" stroke-width="2.6" /><path d="M134.61,1214.65 L152.20,1228.97 L153.40,1227.63 L136.99,1211.95Z" fill="#000" stroke="none"/><path d="M134.61,1229.15 L152.20,1243.47 L153.40,1242.13 L136.99,1226.45Z" fill="#000" stroke="none"/><path d="M134.61,1330.05 L152.20,1344.37 L153.40,1343.03 L136.99,1327.35Z" fill="#000" stroke="none"/><path d="M134.61,1344.35 L152.20,1358.67 L153.40,1357.33 L136.99,1341.65Z" fill="#000" stroke="none"/><line x1="162.00" y1="1364.00" x2="162.00" y2="1466.00" stroke-width="2.6" /><line x1="175.80" y1="1365.00" x2="175.80" y2="1425.60" stroke-width="2.6" /><line x1="156.00" y1="1417.40" x2="224.50" y2="1417.40" stroke-width="2.6" /><path d="M154.26,1425.95 L169.50,1412.02 L168.50,1410.78 L151.74,1422.85Z" fill="#000" stroke="none"/><path d="M168.06,1425.95 L183.30,1412.02 L182.30,1410.78 L165.54,1422.85Z" fill="#000" stroke="none"/><line x1="1185.80" y1="1363.00" x2="1185.80" y2="1425.50" stroke-width="2.6" /><line x1="1204.00" y1="1363.00" x2="1204.00" y2="1466.50" stroke-width="2.6" /><line x1="1176.30" y1="1416.90" x2="1247.00" y2="1416.90" stroke-width="2.6" /><path d="M1178.06,1425.45 L1193.30,1411.52 L1192.30,1410.28 L1175.54,1422.35Z" fill="#000" stroke="none"/><path d="M1196.26,1425.45 L1211.50,1411.52 L1210.50,1410.28 L1193.74,1422.35Z" fill="#000" stroke="none"/><line x1="156.00" y1="1458.40" x2="1213.80" y2="1458.40" stroke-width="2.6" /><path d="M154.26,1466.95 L169.50,1453.02 L168.50,1451.78 L151.74,1463.85Z" fill="#000" stroke="none"/><path d="M1196.26,1466.95 L1211.50,1453.02 L1210.50,1451.78 L1193.74,1463.85Z" fill="#000" stroke="none"/></g><line x1="1054.00" y1="1045.00" x2="1129.00" y2="1045.00" stroke-width="2.6" /><line x1="1054.00" y1="1045.00" x2="588.90" y2="1338.20" stroke-width="2.6" /><line x1="1054.00" y1="1045.00" x2="850.20" y2="1237.70" stroke-width="2.6" /><g fill="#000" stroke="none" font-family="Liberation Sans, sans-serif"><g transform="matrix(0.31111,0,0,0.43436,701.389,128.100)"><path d="M37.00,0.00 L46.00,0.00 L46.00,-71.60 L38.00,-71.60 L19.00,-54.10 L19.00,-45.10 L37.00,-56.10Z" stroke="#000" stroke-width="0.6" vector-effect="non-scaling-stroke" stroke-linejoin="round"/></g><g transform="matrix(0.23007,0,0,0.29288,864.713,170.222)"><text x="0.00 66.70 122.31 180.66 232.76 288.38 370.65 425.88 481.49 535.64 563.43 617.58 673.19 726.32 781.93 837.55 887.55 942.77 998.39 1048.39 1094.19" y="0" font-size="100.0" font-weight="normal" stroke="#000" stroke-width="0.4" vector-effect="non-scaling-stroke" stroke-linejoin="round">Рельефная поверхность</text></g><g transform="matrix(0.38148,0,0,0.55866,1257.002,219.150)"><path d="M37.00,0.00 L46.00,0.00 L46.00,-71.60 L38.00,-71.60 L19.00,-54.10 L19.00,-45.10 L37.00,-56.10Z" stroke="#000" stroke-width="0.3" vector-effect="non-scaling-stroke" stroke-linejoin="round"/></g><line x1="1282.40" y1="204.70" x2="1294.00" y2="204.70" stroke-width="5.0"  stroke="#000"/><g transform="matrix(0.42593,0,0,0.54190,1289.357,218.850)"><path d="M37.00,0.00 L46.00,0.00 L46.00,-71.60 L38.00,-71.60 L19.00,-54.10 L19.00,-45.10 L37.00,-56.10Z" stroke="#000" stroke-width="0.3" vector-effect="non-scaling-stroke" stroke-linejoin="round"/></g><g transform="matrix(0.34243,0,0,0.44111,1244.078,320.200)"><text x="0.00" y="0" font-size="100.0" font-weight="normal" stroke="#000" stroke-width="0.8" vector-effect="non-scaling-stroke" stroke-linejoin="round">2</text></g><g transform="matrix(0.34024,0,0,0.43968,103.189,313.100)"><text x="0.00" y="0" font-size="100.0" font-weight="normal" stroke="#000" stroke-width="0.8" vector-effect="non-scaling-stroke" stroke-linejoin="round">2</text></g><g transform="matrix(0.24691,0,0,0.29899,162.309,186.208)"><path d="M37.00,0.00 L46.00,0.00 L46.00,-71.60 L38.00,-71.60 L19.00,-54.10 L19.00,-45.10 L37.00,-56.10Z" stroke="#000" stroke-width="0.6" vector-effect="non-scaling-stroke" stroke-linejoin="round"/><text x="55.62" y="0" font-size="100.0" font-weight="normal" stroke="#000" stroke-width="0.6" vector-effect="non-scaling-stroke" stroke-linejoin="round">8</text></g><g transform="matrix(0,-0.23333,0.33333,0,73.074,259.273)"><text x="0.00 55.62" y="0" font-size="100.0" font-weight="normal" stroke="#000" stroke-width="0.6" vector-effect="non-scaling-stroke" stroke-linejoin="round">25</text></g><g transform="matrix(0,-0.23304,0.33333,0,73.074,353.872)"><text x="0.00 55.62 111.23" y="0" font-size="100.0" font-weight="normal" stroke="#000" stroke-width="0.6" vector-effect="non-scaling-stroke" stroke-linejoin="round">200</text></g><g transform="matrix(0,-0.22861,0.34392,0,32.614,353.550)"><text x="0.00 55.62 111.23" y="0" font-size="100.0" font-weight="normal" stroke="#000" stroke-width="0.6" vector-effect="non-scaling-stroke" stroke-linejoin="round">250</text></g><g transform="matrix(0,-0.24411,0.33333,0,73.074,436.428)"><text x="0.00 55.62" y="0" font-size="100.0" font-weight="normal" stroke="#000" stroke-width="0.6" vector-effect="non-scaling-stroke" stroke-linejoin="round">25</text></g><g transform="matrix(0,-0.25715,0.33620,0,512.572,265.786)"><path d="M37.00,0.00 L46.00,0.00 L46.00,-71.60 L38.00,-71.60 L19.00,-54.10 L19.00,-45.10 L37.00,-56.10Z" stroke="#000" stroke-width="0.6" vector-effect="non-scaling-stroke" stroke-linejoin="round"/><text x="55.62" y="0" font-size="100.0" font-weight="normal" stroke="#000" stroke-width="0.6" vector-effect="non-scaling-stroke" stroke-linejoin="round">8</text></g><g transform="matrix(0.26245,0,0,0.29762,354.013,463.009)"><path d="M37.00,0.00 L46.00,0.00 L46.00,-71.60 L38.00,-71.60 L19.00,-54.10 L19.00,-45.10 L37.00,-56.10Z" stroke="#000" stroke-width="0.6" vector-effect="non-scaling-stroke" stroke-linejoin="round"/><text x="55.62 111.23" y="0" font-size="100.0" font-weight="normal" stroke="#000" stroke-width="0.6" vector-effect="non-scaling-stroke" stroke-linejoin="round">85</text></g><g transform="matrix(0.28007,0,0,0.30864,449.779,463.399)"><path d="M37.00,0.00 L46.00,0.00 L46.00,-71.60 L38.00,-71.60 L19.00,-54.10 L19.00,-45.10 L37.00,-56.10Z" stroke="#000" stroke-width="0.6" vector-effect="non-scaling-stroke" stroke-linejoin="round"/><text x="55.62" y="0" font-size="100.0" font-weight="normal" stroke="#000" stroke-width="0.6" vector-effect="non-scaling-stroke" stroke-linejoin="round">3</text></g><g transform="matrix(0.22294,0,0,0.30649,175.555,517.701)"><text x="0.00 55.62" y="0" font-size="100.0" font-weight="normal" stroke="#000" stroke-width="0.6" vector-effect="non-scaling-stroke" stroke-linejoin="round">94</text></g><g transform="matrix(0.26013,0,0,0.29486,229.857,517.412)"><path d="M37.00,0.00 L46.00,0.00 L46.00,-71.60 L38.00,-71.60 L19.00,-54.10 L19.00,-45.10 L37.00,-56.10Z" stroke="#000" stroke-width="0.6" vector-effect="non-scaling-stroke" stroke-linejoin="round"/><text x="55.62" y="0" font-size="100.0" font-weight="normal" stroke="#000" stroke-width="0.6" vector-effect="non-scaling-stroke" stroke-linejoin="round">5</text></g><g transform="matrix(0.23258,0,0,0.31415,605.881,520.393)"><path d="M37.00,0.00 L46.00,0.00 L46.00,-71.60 L38.00,-71.60 L19.00,-54.10 L19.00,-45.10 L37.00,-56.10Z" stroke="#000" stroke-width="0.6" vector-effect="non-scaling-stroke" stroke-linejoin="round"/><text x="55.62 111.23 166.85 216.85 272.46" y="0" font-size="100.0" font-weight="normal" stroke="#000" stroke-width="0.6" vector-effect="non-scaling-stroke" stroke-linejoin="round">98x9=</text><path d="M367.86,0.00 L376.86,0.00 L376.86,-71.60 L368.86,-71.60 L349.86,-54.10 L349.86,-45.10 L367.86,-56.10Z" stroke="#000" stroke-width="0.6" vector-effect="non-scaling-stroke" stroke-linejoin="round"/><text x="386.47 442.09 497.71" y="0" font-size="100.0" font-weight="normal" stroke="#000" stroke-width="0.6" vector-effect="non-scaling-stroke" stroke-linejoin="round">782</text></g><g transform="matrix(0.31111,0,0,0.42318,699.389,476.100)"><path d="M37.00,0.00 L46.00,0.00 L46.00,-71.60 L38.00,-71.60 L19.00,-54.10 L19.00,-45.10 L37.00,-56.10Z" stroke="#000" stroke-width="0.6" vector-effect="non-scaling-stroke" stroke-linejoin="round"/></g><g transform="matrix(0.26922,0,0,0.31415,1106.185,522.393)"><path d="M37.00,0.00 L46.00,0.00 L46.00,-71.60 L38.00,-71.60 L19.00,-54.10 L19.00,-45.10 L37.00,-56.10Z" stroke="#000" stroke-width="0.6" vector-effect="non-scaling-stroke" stroke-linejoin="round"/><text x="55.62" y="0" font-size="100.0" font-weight="normal" stroke="#000" stroke-width="0.6" vector-effect="non-scaling-stroke" stroke-linejoin="round">5</text></g><g transform="matrix(0.22198,0,0,0.32203,1165.259,522.386)"><text x="0.00 55.62" y="0" font-size="100.0" font-weight="normal" stroke="#000" stroke-width="0.6" vector-effect="non-scaling-stroke" stroke-linejoin="round">94</text></g><g transform="matrix(0.22505,0,0,0.32486,1214.946,449.783)"><text x="0.00 55.62" y="0" font-size="100.0" font-weight="normal" stroke="#000" stroke-width="0.6" vector-effect="non-scaling-stroke" stroke-linejoin="round">70</text></g><g transform="matrix(0.19477,0,0,0.29237,1314.853,485.414)"><text x="0.00 55.62" y="0" font-size="100.0" font-weight="normal" stroke="#000" stroke-width="0.6" vector-effect="non-scaling-stroke" stroke-linejoin="round">45</text></g><g transform="matrix(0.22948,0,0,0.32486,656.346,567.683)"><text x="0.00 55.62 111.23 166.85" y="0" font-size="100.0" font-weight="normal" stroke="#000" stroke-width="0.6" vector-effect="non-scaling-stroke" stroke-linejoin="round">2000</text></g><g transform="matrix(0.38446,0,0,0.55425,611.716,728.950)"><text x="0.00 55.62 88.92" y="0" font-size="100.0" font-weight="normal" stroke="#000" stroke-width="1.1" vector-effect="non-scaling-stroke" stroke-linejoin="round">2-2</text></g><g transform="matrix(0,-0.22724,0.34109,0,65.967,787.921)"><text x="0.00 55.62" y="0" font-size="100.0" font-weight="normal" stroke="#000" stroke-width="0.6" vector-effect="non-scaling-stroke" stroke-linejoin="round">45</text></g><g transform="matrix(0,-0.25786,0.32793,0,119.180,792.299)"><path d="M37.00,0.00 L46.00,0.00 L46.00,-71.60 L38.00,-71.60 L19.00,-54.10 L19.00,-45.10 L37.00,-56.10Z" stroke="#000" stroke-width="0.6" vector-effect="non-scaling-stroke" stroke-linejoin="round"/><text x="55.62" y="0" font-size="100.0" font-weight="normal" stroke="#000" stroke-width="0.6" vector-effect="non-scaling-stroke" stroke-linejoin="round">5</text></g><g transform="matrix(0.23323,0,0,0.33545,653.527,899.572)"><text x="0.00 55.62 111.23 166.85" y="0" font-size="100.0" font-weight="normal" stroke="#000" stroke-width="0.6" vector-effect="non-scaling-stroke" stroke-linejoin="round">2000</text></g><g transform="matrix(0.30607,0,0,0.43389,533.196,1014.846)"><text x="0.00 72.22 122.22 177.83 246.58 302.20 329.98 385.60 441.21 509.96 565.82 621.44 677.05 730.18 785.79 841.02 896.88" y="0" font-size="100.0" font-weight="normal" stroke="#000" stroke-width="1.1" vector-effect="non-scaling-stroke" stroke-linejoin="round">Схема армирования</text></g><g transform="matrix(0.30370,0,0,0.38128,1081.730,1036.500)"><path d="M37.00,0.00 L46.00,0.00 L46.00,-71.60 L38.00,-71.60 L19.00,-54.10 L19.00,-45.10 L37.00,-56.10Z" stroke="#000" stroke-width="0.6" vector-effect="non-scaling-stroke" stroke-linejoin="round"/></g><g transform="matrix(0,-0.24878,0.34584,0,138.062,1205.327)"><path d="M37.00,0.00 L46.00,0.00 L46.00,-71.60 L38.00,-71.60 L19.00,-54.10 L19.00,-45.10 L37.00,-56.10Z" stroke="#000" stroke-width="0.6" vector-effect="non-scaling-stroke" stroke-linejoin="round"/><text x="55.62" y="0" font-size="100.0" font-weight="normal" stroke="#000" stroke-width="0.6" vector-effect="non-scaling-stroke" stroke-linejoin="round">5</text></g><g transform="matrix(0,-0.22418,0.33827,0,95.120,1299.827)"><text x="0.00 55.62 111.23" y="0" font-size="100.0" font-weight="normal" stroke="#000" stroke-width="0.6" vector-effect="non-scaling-stroke" stroke-linejoin="round">250</text></g><g transform="matrix(0,-0.25105,0.34446,0,134.964,1388.170)"><path d="M37.00,0.00 L46.00,0.00 L46.00,-71.60 L38.00,-71.60 L19.00,-54.10 L19.00,-45.10 L37.00,-56.10Z" stroke="#000" stroke-width="0.6" vector-effect="non-scaling-stroke" stroke-linejoin="round"/><text x="55.62" y="0" font-size="100.0" font-weight="normal" stroke="#000" stroke-width="0.6" vector-effect="non-scaling-stroke" stroke-linejoin="round">5</text></g><g transform="matrix(0.26013,0,0,0.31553,198.357,1409.692)"><path d="M37.00,0.00 L46.00,0.00 L46.00,-71.60 L38.00,-71.60 L19.00,-54.10 L19.00,-45.10 L37.00,-56.10Z" stroke="#000" stroke-width="0.6" vector-effect="non-scaling-stroke" stroke-linejoin="round"/><text x="55.62" y="0" font-size="100.0" font-weight="normal" stroke="#000" stroke-width="0.6" vector-effect="non-scaling-stroke" stroke-linejoin="round">5</text></g><g transform="matrix(0.24650,0,0,0.31140,1222.016,1411.196)"><path d="M37.00,0.00 L46.00,0.00 L46.00,-71.60 L38.00,-71.60 L19.00,-54.10 L19.00,-45.10 L37.00,-56.10Z" stroke="#000" stroke-width="0.6" vector-effect="non-scaling-stroke" stroke-linejoin="round"/><text x="55.62" y="0" font-size="100.0" font-weight="normal" stroke="#000" stroke-width="0.6" vector-effect="non-scaling-stroke" stroke-linejoin="round">5</text></g><g transform="matrix(0.23463,0,0,0.33615,658.420,1449.172)"><text x="0.00 55.62 111.23 166.85" y="0" font-size="100.0" font-weight="normal" stroke="#000" stroke-width="0.6" vector-effect="non-scaling-stroke" stroke-linejoin="round">2000</text></g></g></g></svg></body></html>
